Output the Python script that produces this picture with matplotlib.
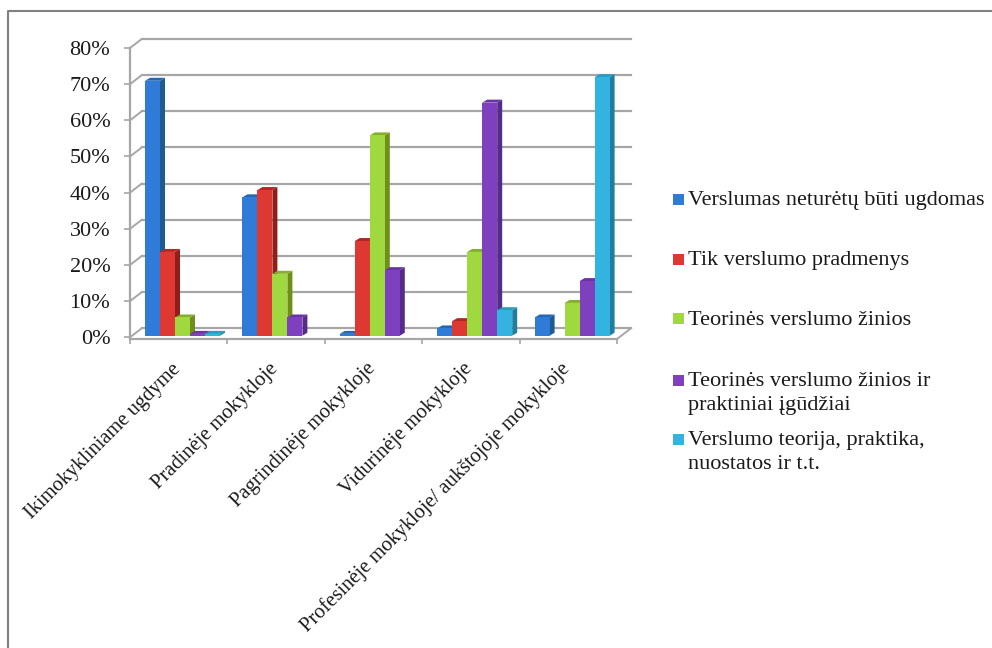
import matplotlib
matplotlib.use('Agg')
import matplotlib.pyplot as plt
from matplotlib.lines import Line2D
from matplotlib.patches import Polygon, Rectangle
from matplotlib.ticker import PercentFormatter

categories = ['Ikimokykliniame ugdyme', 'Pradinėje mokykloje', 'Pagrindinėje mokykloje',
              'Vidurinėje mokykloje', 'Profesinėje mokykloje/ aukštojoje mokykloje']
series_names = ['Verslumas neturėtų būti ugdomas', 'Tik verslumo pradmenys', 'Teorinės verslumo žinios',
                'Teorinės verslumo žinios ir\npraktiniai įgūdžiai', 'Verslumo teorija, praktika,\nnuostatos ir t.t.']
blue = [70, 38, 0.5, 2, 5]
red = [23, 40, 26, 4, 0]
green = [5, 17, 55, 23, 9]
purple = [0.5, 5, 18, 64, 15]
cyan = [0.5, 0, 0, 7, 71]
series = [blue, red, green, purple, cyan]

# front, side and top colour of each series
front_colors = ['#317BD8', '#DD3831', '#A0D93F', '#7E40BF', '#33B3E0']
side_colors = ['#1F5A93', '#8F1D1A', '#6F8F1A', '#562C8A', '#1F7E9C']
top_colors = ['#2668B0', '#B02A25', '#85AE2C', '#6A34A3', '#2A9CC0']
legend_y = [199, 259, 319, 380, 439]

W, H = 992, 648
fig = plt.figure(figsize=(W / 100, H / 100), dpi=100)
ax = fig.add_axes([130 / W, 1 - 337.3 / H, 487 / W, 289.3 / H])
ax.set_xlim(0, 5)
ax.set_ylim(0, 80)
ax.patch.set_visible(False)

px_x = 5 / 487  # one pixel in x data units
px_y = 80 / 289.3  # one pixel in y data units
grid_color = '#A6A6A6'

# back wall, side wall and floor
for v in range(0, 90, 10):
    ax.plot([11.7 * px_x, 5 + 14 * px_x], [v + 9 * px_y] * 2, color=grid_color, lw=1.6, clip_on=False, zorder=1)
    ax.plot([0, 11.7 * px_x], [v, v + 9 * px_y], color=grid_color, lw=1.4, clip_on=False, zorder=1)
ax.plot([5, 5 + 14 * px_x], [-1.7 * px_y, 9 * px_y], color=grid_color, lw=1.4, clip_on=False, zorder=1)

# bars, drawn series by series so each front hides the side of the bar before it
bar_w = 15 * px_x
dx = 5 * px_x
dy = 3 * px_y
base = 1.6 * px_y
scale = 1.007
for s, values in enumerate(series):
    lefts = [i + 15 * px_x + s * bar_w for i in range(len(values))]
    heights = [v * scale for v in values]
    for left, h in zip(lefts, heights):
        if h == 0:
            continue
        top = base + h
        ax.add_patch(Polygon([(left + bar_w, base), (left + bar_w + dx, base + dy),
                              (left + bar_w + dx, top + dy), (left + bar_w, top)],
                             facecolor=side_colors[s], edgecolor='none', clip_on=False, zorder=3 + s))
        ax.add_patch(Polygon([(left, top), (left + dx, top + dy), (left + bar_w + dx, top + dy), (left + bar_w, top)],
                             facecolor=top_colors[s], edgecolor='none', clip_on=False, zorder=3 + s))
    ax.bar(lefts, heights, width=bar_w, bottom=base, align='edge', color=front_colors[s], clip_on=False, zorder=3 + s)

# axes
for name in ['top', 'right']:
    ax.spines[name].set_visible(False)
for name in ['left', 'bottom']:
    ax.spines[name].set_color(grid_color)
    ax.spines[name].set_linewidth(1.6)
ax.spines['bottom'].set_position(('outward', 1.2))
ax.spines['left'].set_bounds(-1.7 * px_y, 80)
ax.set_xticks(range(6))
ax.set_xticklabels([])
ax.set_yticks(range(0, 90, 10))
ax.yaxis.set_major_formatter(PercentFormatter(decimals=0))
ax.tick_params(axis='x', length=3.6, width=1.2, color=grid_color)
ax.tick_params(axis='y', length=4.2, width=1.2, color=grid_color, pad=10, labelsize=16, labelcolor='#1A1A1A')
for label in ax.get_yticklabels():
    label.set_fontfamily('Liberation Serif')

# category labels
for i, name in enumerate(categories):
    ax.text(i + 0.49, -8.0, name, rotation=45, rotation_mode='anchor', ha='right', va='center',
            family='Liberation Serif', fontsize=14.8, color='#1A1A1A', clip_on=False)

# legend, the gaps are uneven so entries are placed one by one
for name, color, y in zip(series_names, front_colors, legend_y):
    fig.add_artist(Rectangle((672.5 / W, 1 - (y + 5.5) / H), 11 / W, 11 / H, transform=fig.transFigure,
                             facecolor=color, edgecolor='none'))
    fig.text(688 / W, 1 - (y - 8) / H, name, ha='left', va='top', family='Liberation Serif', fontsize=16,
             color='#1A1A1A', linespacing=1.36)

# picture frame
fig.add_artist(Line2D([8 / W, 8 / W, 1], [0, 1 - 11 / H, 1 - 11 / H], color='#808080', lw=1.5))

plt.savefig('out.png', dpi=100)
